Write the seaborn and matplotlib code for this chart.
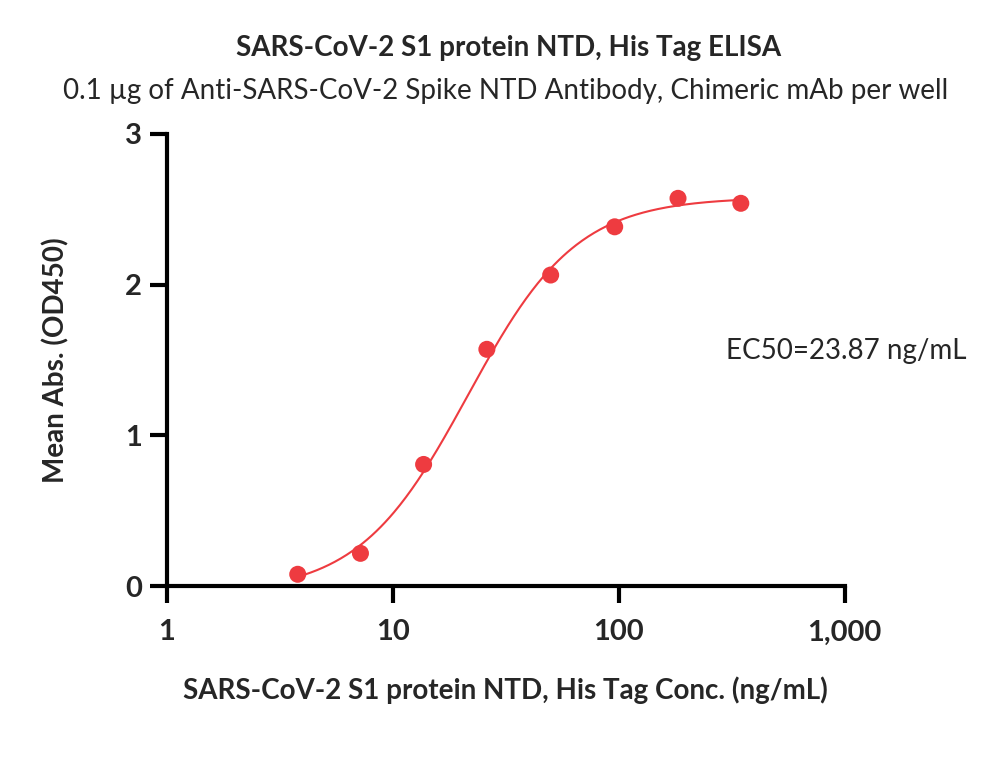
import numpy as np
import pandas as pd
import matplotlib
matplotlib.use("Agg")
import matplotlib.pyplot as plt
import matplotlib.ticker as mticker
import seaborn as sns

# Data
conc = [3.8, 7.2, 13.7, 26.1, 50.0, 96.0, 183.0, 347.0]
od450 = [0.078, 0.217, 0.807, 1.571, 2.064, 2.384, 2.573, 2.540]

# 4PL fit parameters (curve shape)
fit_bottom = -0.05
fit_top = 2.58
fit_mid = 21.5
fit_hill = 1.8

x_ticks = [1, 10, 100, 1000]
x_ticklabels = ["1", "10", "100", "1,000"]
y_ticks = [0, 1, 2, 3]

title = "SARS-CoV-2 S1 protein NTD, His Tag ELISA"
subtitle = "0.1 µg of Anti-SARS-CoV-2 Spike NTD Antibody, Chimeric mAb per well"
xlabel = "SARS-CoV-2 S1 protein NTD, His Tag Conc. (ng/mL)"
ylabel = "Mean Abs. (OD450)"
ec50_text = "EC50=23.87 ng/mL"

sns.set_style("white")
plt.rcParams['font.family'] = ['Lato', 'DejaVu Sans']

red = "#EE3B40"

fig = plt.figure(figsize=(10, 7.79), dpi=100)
ax = fig.add_axes([0.1667, 0.2477, 0.678, 0.5803])

xs = np.logspace(np.log10(conc[0]), np.log10(conc[-1]), 300)
ys = fit_bottom + (fit_top - fit_bottom) / (1 + (fit_mid / xs) ** fit_hill)
curve = pd.DataFrame({"x": xs, "y": ys})
pts = pd.DataFrame({"x": conc, "y": od450})

sns.lineplot(data=curve, x="x", y="y", ax=ax, color=red, linewidth=1.5)
sns.scatterplot(data=pts, x="x", y="y", ax=ax, color=red, s=150, edgecolor="none", zorder=5)

ax.set_xscale("log")
ax.set_xlim(1, 1000)
ax.set_ylim(0, 3)
ax.xaxis.set_major_locator(mticker.FixedLocator(x_ticks))
ax.xaxis.set_minor_locator(mticker.NullLocator())
ax.set_xticks(x_ticks)
ax.set_xticklabels(x_ticklabels)
ax.set_yticks(y_ticks)
ax.set_yticklabels([str(v) for v in y_ticks])

for s in ["top", "right"]:
    ax.spines[s].set_visible(False)
for s in ["left", "bottom"]:
    ax.spines[s].set_linewidth(3)
    ax.spines[s].set_color("black")

ax.tick_params(axis="both", which="major", direction="out", length=12, width=3,
               color="black", labelsize=21, bottom=True, left=True)
ax.tick_params(axis="y", pad=6)
ax.tick_params(axis="x", pad=12)
for lab in ax.get_xticklabels() + ax.get_yticklabels():
    lab.set_fontweight("bold")

ax.set_xlabel(xlabel, fontsize=20, fontweight="bold", labelpad=22)
ax.set_ylabel(ylabel, fontsize=20, fontweight="bold", labelpad=40)

fig.text(0.509, 0.938, title, ha="center", va="center", fontsize=20, fontweight="bold")
fig.text(0.506, 0.883, subtitle, ha="center", va="center", fontsize=20)
ax.text(0.825, 0.52, ec50_text, transform=ax.transAxes, fontsize=20, ha="left", va="center")

for c in ax.collections:
    c.set_clip_on(False)

fig.savefig("out.png", dpi=100)
